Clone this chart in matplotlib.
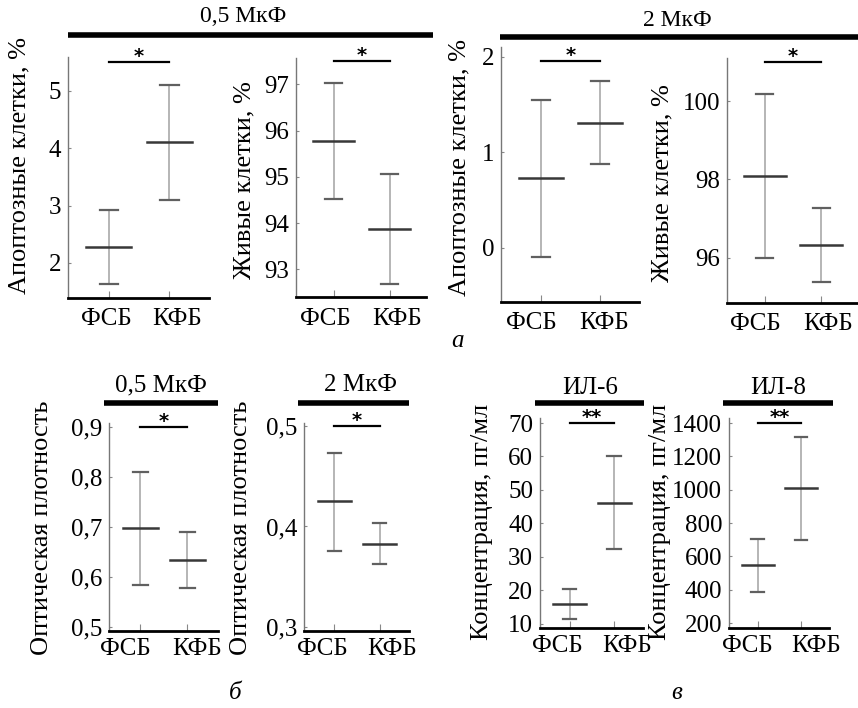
import numpy as np
import matplotlib
matplotlib.use('Agg')
import matplotlib.pyplot as plt
from matplotlib.lines import Line2D

plt.rcParams['font.family'] = ['Liberation Serif', 'DejaVu Serif']

groups = ['ФСБ', 'КФБ']

# a: apoptotic / live cells, 0.5 and 2 MkF
apo05_mean = [2.28, 4.10]
apo05_low = [1.64, 3.10]
apo05_high = [2.92, 5.10]
live05_mean = [95.78, 93.87]
live05_low = [94.53, 92.68]
live05_high = [97.03, 95.05]
apo2_mean = [0.73, 1.30]
apo2_low = [-0.10, 0.87]
apo2_high = [1.55, 1.74]
live2_mean = [98.08, 96.32]
live2_low = [96.00, 95.38]
live2_high = [100.17, 97.27]

# б: optical density
od05_mean = [0.697, 0.633]
od05_low = [0.583, 0.578]
od05_high = [0.809, 0.690]
od2_mean = [0.425, 0.383]
od2_low = [0.376, 0.363]
od2_high = [0.473, 0.403]

# в: IL-6 / IL-8
il6_mean = [15.9, 46.0]
il6_low = [11.4, 32.2]
il6_high = [20.5, 60.0]
il8_mean = [546, 1008]
il8_low = [385, 700]
il8_high = [706, 1314]

W, H = 858, 708
XLIM = (0.33, 2.65)
fig = plt.figure(figsize=(W / 100, H / 100), dpi=100)


def box(x0, y0, x1, y1):
    return [x0 / W, 1 - y1 / H, (x1 - x0) / W, (y1 - y0) / H]


def panel(rect, mean, low, high, ylim, yticks, yticklabels, ylabel, stars, sig_y,
          lab_xy, shifts, xpad):
    ax = fig.add_axes(box(*rect))
    x0, y0, x1, y1 = rect
    x = np.arange(1, len(groups) + 1)
    for xi, m, lo, hi in zip(x, mean, low, high):
        ax.plot([xi, xi], [lo, hi], color='#b0b0b0', lw=1.3, zorder=1)
        ax.plot([xi - 0.15, xi + 0.15], [lo, lo], color='#606060', lw=1.6, zorder=2)
        ax.plot([xi - 0.15, xi + 0.15], [hi, hi], color='#606060', lw=1.6, zorder=2)
        ax.plot([xi - 0.37, xi + 0.37], [m, m], color='#383838', lw=1.8, zorder=3)
    ax.plot([1.0, 2.0], [sig_y, sig_y], color='black', lw=1.6)
    ax.annotate(stars, (1.5, sig_y), xytext=(0, -3), textcoords='offset points',
                ha='center', va='bottom', fontsize=14, fontweight='bold',
                family='DejaVu Sans')
    ax.set_xlim(*XLIM)
    ax.set_ylim(*ylim)
    # tick marks at the groups, labels spread a little outward
    per_px = (XLIM[1] - XLIM[0]) / (x1 - x0)
    ax.set_xticks(x, labels=['', ''])
    ax.set_xticks(x + np.array(shifts) * per_px, labels=groups, minor=True, fontsize=18)
    ax.set_yticks(yticks)
    ax.set_yticklabels(yticklabels, fontsize=18)
    ax.set_ylabel(ylabel, fontsize=19)
    ax.yaxis.set_label_coords((lab_xy[0] - x0) / (x1 - x0), (y1 - lab_xy[1]) / (y1 - y0))
    ax.spines['top'].set_visible(False)
    ax.spines['right'].set_visible(False)
    ax.spines['left'].set_color('#777777')
    ax.spines['left'].set_linewidth(1.0)
    ax.spines['bottom'].set_color('black')
    ax.spines['bottom'].set_linewidth(2.0)
    ax.tick_params(axis='both', direction='in', colors='#888888', labelcolor='black')
    ax.tick_params(axis='y', length=2, pad=5)
    ax.tick_params(axis='x', which='major', length=5)
    ax.tick_params(axis='x', which='minor', length=0, pad=xpad)
    return ax


panel((68, 57, 209, 298), apo05_mean, apo05_low, apo05_high, (1.39, 5.59),
      [2, 3, 4, 5], ['2', '3', '4', '5'], 'Апоптозные клетки, %', '*', 5.5,
      (30, 166), (-2, 8), 7)
panel((296, 58, 426, 297), live05_mean, live05_low, live05_high, (92.4, 97.57),
      [93, 94, 95, 96, 97], ['93', '94', '95', '96', '97'], 'Живые клетки, %', '*', 97.5,
      (255, 180), (-8, 8), 8)
panel((501, 47, 639, 302), apo2_mean, apo2_low, apo2_high, (-0.57, 2.1),
      [0, 1, 2], ['0', '1', '2'], 'Апоптозные клетки, %', '*', 1.95,
      (470, 168), (-9, 4), 7)
panel((727, 58, 858, 303), live2_mean, live2_low, live2_high, (94.84, 101.1),
      [96, 98, 100], ['96', '98', '100'], 'Живые клетки, %', '*', 101.0,
      (673, 183), (-9, 7), 7)

panel((109, 423, 218, 631), od05_mean, od05_low, od05_high, (0.492, 0.907),
      [0.5, 0.6, 0.7, 0.8, 0.9], ['0,5', '0,6', '0,7', '0,8', '0,9'],
      'Оптическая плотность', '*', 0.9, (53, 528), (-15, 10), 5)
panel((304, 423, 409, 631), od2_mean, od2_low, od2_high, (0.296, 0.503),
      [0.3, 0.4, 0.5], ['0,3', '0,4', '0,5'], 'Оптическая плотность', '*', 0.5,
      (252, 528), (-12, 13), 5)
panel((540, 418, 643, 628), il6_mean, il6_low, il6_high, (8.7, 71.5),
      [10, 20, 30, 40, 50, 60, 70], ['10', '20', '30', '40', '50', '60', '70'],
      'Концентрация, пг/мл', '**', 70, (493, 522), (-12, 13), 5)
panel((729, 418, 829, 628), il8_mean, il8_low, il8_high, (170, 1430),
      [200, 400, 600, 800, 1000, 1200, 1400],
      ['200', '400', '600', '800', '1000', '1200', '1400'],
      'Концентрация, пг/мл', '**', 1400, (671, 522), (-11, 15), 5)


def header(x0, x1, y_line, xt, yt, text, fs):
    fig.add_artist(Line2D([x0 / W, x1 / W], [1 - y_line / H, 1 - y_line / H],
                          color='black', lw=4, solid_capstyle='butt'))
    fig.text(xt / W, 1 - yt / H, text, ha='center', va='center', fontsize=fs)


header(68, 433, 35, 243, 17, '0,5 МкФ', 17)
header(500, 858, 37, 677, 21, '2 МкФ', 17)
header(104, 218, 403, 161, 385, '0,5 МкФ', 18)
header(298, 409, 403, 360, 385, '2 МкФ', 18)
header(535, 644, 403, 590, 388, 'ИЛ-6', 18)
header(723, 833, 403, 778, 388, 'ИЛ-8', 18)

fig.text(458 / W, 1 - 341 / H, 'а', ha='center', va='center', fontsize=18, style='italic')
fig.text(235 / W, 1 - 693 / H, 'б', ha='center', va='center', fontsize=18, style='italic')
fig.text(677 / W, 1 - 693 / H, 'в', ha='center', va='center', fontsize=18, style='italic')

fig.savefig('out.png', dpi=100)
